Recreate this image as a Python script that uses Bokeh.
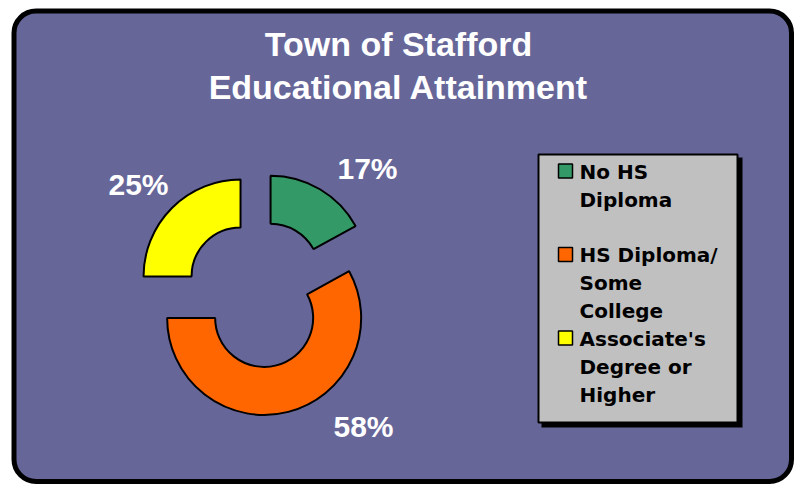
import numpy as np
from bokeh.plotting import figure
from bokeh.models import Range1d
from bokeh.core.properties import value
from bokeh.embed import file_html
from bokeh.resources import INLINE

# ---------------- data ----------------
title_lines = ["Town of Stafford", "Educational Attainment"]
categories = ["No HS Diploma", "HS Diploma/ Some College", "Associate's Degree or Higher"]
legend_lines = [["No HS", "Diploma"], ["HS Diploma/", "Some", "College"],
                ["Associate's", "Degree or", "Higher"]]
values = [17, 58, 25]
pct_labels = ["17%", "58%", "25%"]
colors = ["#339966", "#FF6600", "#FFFF00"]

# ---------------- layout (screen pixels) ----------------
W, H = 799, 484
BG = "#666699"


def X(px):
    return px


def Y(py):
    return H - py


pie_center = (257.5, 293.5)
explode = 24.7
r_in, r_out = 49, 97
label_pos = [(367, 168), (363, 426), (138, 184)]   # centre x, baseline y
legend_box = (537, 153, 738, 423)                  # l, t, r, b
legend_first_baseline = 171
legend_item_step = 83.5
legend_line_step = 28

p = figure(width=W, height=H, x_range=Range1d(0, W), y_range=Range1d(0, H),
           output_backend="svg", toolbar_location=None, min_border=0,
           x_axis_type=None, y_axis_type=None)
p.grid.visible = False
p.outline_line_color = None
p.background_fill_color = "white"
p.border_fill_color = "white"

# frame
p.quad(left=X(13.5), right=X(791), top=Y(10.5), bottom=Y(481),
       fill_color=BG, line_color="black", line_width=5, border_radius=22)

# title
for i, t in enumerate(title_lines):
    p.text(x=[X(398)], y=[Y(43 + 43 * i)], text=[t], text_align="center",
           text_baseline="alphabetic", text_color="white",
           text_font=value("Liberation Sans"), text_font_style="bold",
           text_font_size="34px")

# donut
vals = np.array(values, dtype=float)
frac = vals / vals.sum()
cum = np.concatenate([[0.0], np.cumsum(frac)])
start = np.pi / 2 - cum[:-1] * 2 * np.pi
end = np.pi / 2 - cum[1:] * 2 * np.pi
mid = (start + end) / 2
cx, cy = X(pie_center[0]), Y(pie_center[1])
xs = cx + explode * np.cos(mid)
ys = cy + explode * np.sin(mid)
p.annular_wedge(x=xs, y=ys, inner_radius=r_in, outer_radius=r_out,
                start_angle=start, end_angle=end, direction="clock",
                fill_color=colors, line_color="black", line_width=2)

# percentage labels
p.text(x=[X(a) for a, b in label_pos], y=[Y(b) for a, b in label_pos],
       text=pct_labels, text_align="center", text_baseline="alphabetic",
       text_color="white", text_font=value("Liberation Sans"),
       text_font_style="bold", text_font_size="30px")

# legend
l, t, r, b = legend_box
p.quad(left=X(l + 4), right=X(r + 4), top=Y(t + 4), bottom=Y(b + 4),
       fill_color="black", line_color=None)
p.quad(left=X(l + 1), right=X(r - 1), top=Y(t + 1), bottom=Y(b - 1),
       fill_color="#C0C0C0", line_color="black", line_width=2)

for i, lines in enumerate(legend_lines):
    base = legend_first_baseline + legend_item_step * i
    p.rect(x=[X(565)], y=[Y(base - 0.5)], width=14, height=14,
           fill_color=colors[i], line_color="black", line_width=1.5)
    for j, ln in enumerate(lines):
        p.text(x=[X(579)], y=[Y(base + legend_line_step * j)], text=[ln],
               text_align="left", text_baseline="alphabetic", text_color="black",
               text_font=value("DejaVu Sans"), text_font_style="bold",
               text_font_size="20px")

open("out.html", "w").write(file_html(p, INLINE))
